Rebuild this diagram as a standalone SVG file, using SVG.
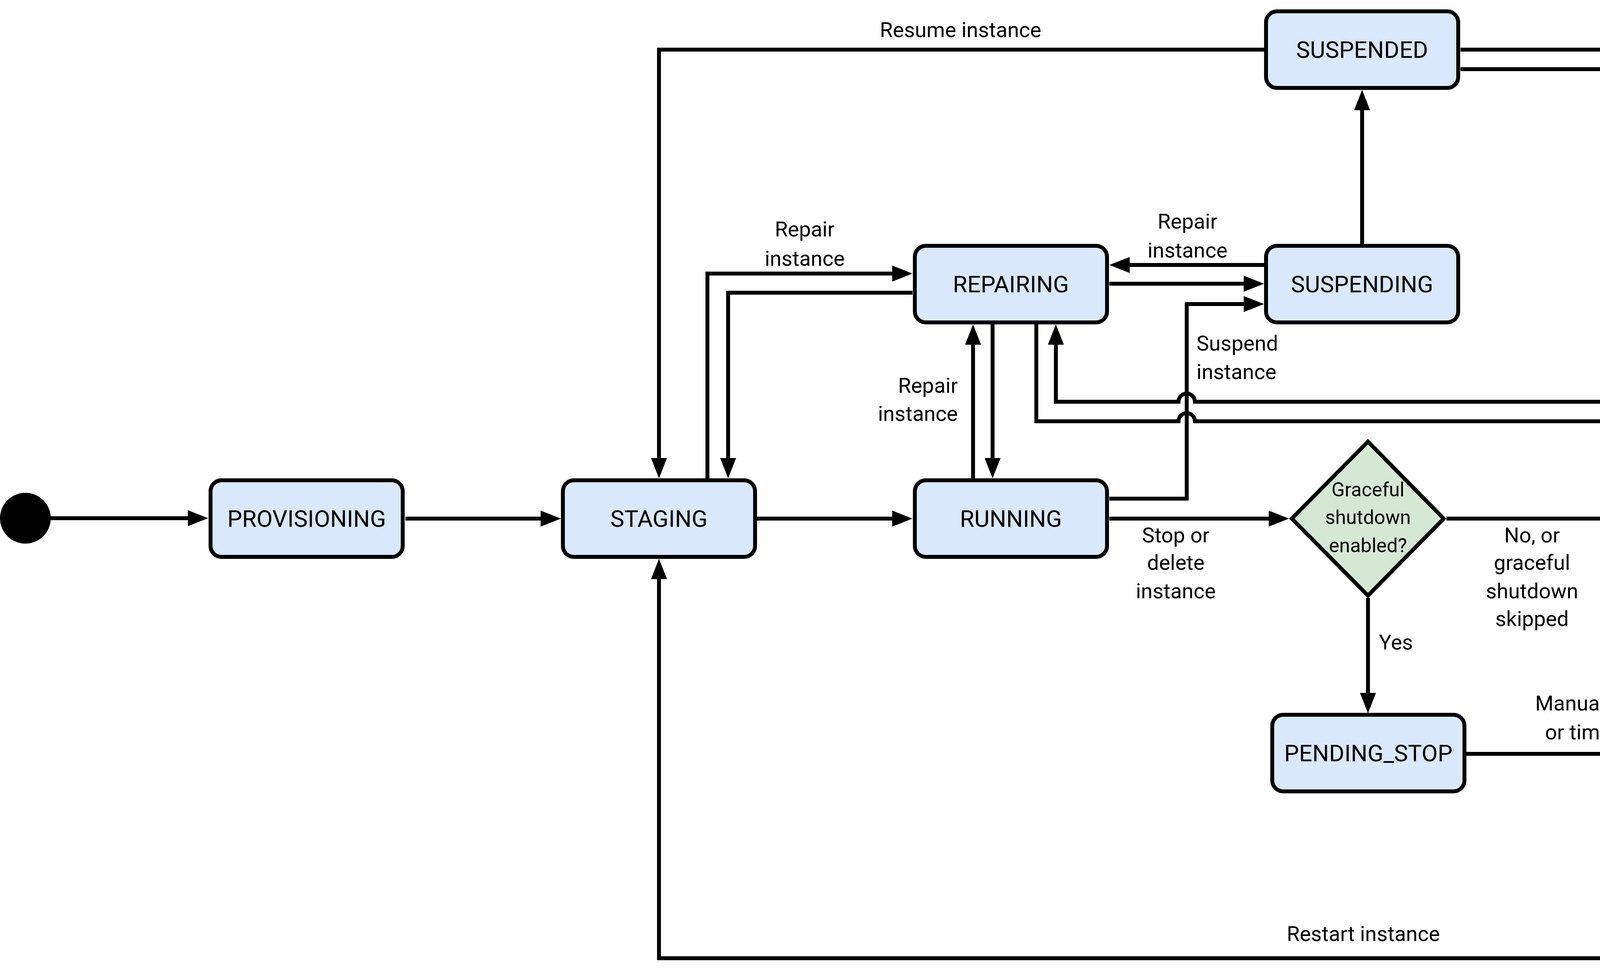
<svg xmlns="http://www.w3.org/2000/svg" width="6045" height="2500" viewBox="0 0 6045 2500">
<style>
  .node rect { fill:#dae8fc; stroke:#000; stroke-width:10; }
  .dec polygon { fill:#d5e8d4; stroke:#000; stroke-width:10; stroke-linejoin:miter; }
  .nt { font-family:Roboto, "Liberation Sans", sans-serif; font-size:60px; fill:#000; text-anchor:middle; }
  .dt { font-family:Roboto, "Liberation Sans", sans-serif; font-size:50px; fill:#000; text-anchor:middle; }
  .lb { font-family:Roboto, "Liberation Sans", sans-serif; font-size:54px; fill:#000; }
  .c { text-anchor:middle; }
  .s { text-anchor:start; }
  .e { text-anchor:end; }
  .edge { fill:none; stroke:#000; stroke-width:10; marker-end:url(#arr); }
</style>
<defs>
  <marker id="arr" markerUnits="userSpaceOnUse" markerWidth="52" markerHeight="41" refX="22" refY="20.5" orient="auto">
    <path d="M0,0 L52,20.5 L0,41 Z" fill="#000"/>
  </marker>
</defs>
<rect width="6045" height="2500" fill="#fff"/>

<g id="connectors">
  <path class="edge" d="M130,1326 H503"/>
  <path class="edge" d="M1038,1327 H1406"/>
  <path class="edge" d="M1936,1327 H2306"/>
  <path class="edge" d="M1811,1224 V700 H2306"/>
  <path class="edge" d="M2336,749 H1864 V1194"/>
  <path class="edge" d="M3236,127 H1687 V1194"/>
  <path class="edge" d="M2491,1224 V860"/>
  <path class="edge" d="M2541,830 V1194"/>
  <path class="edge" d="M2653,830 V1078 H3017 A21,21 0 0 1 3059,1078 H4382 V1195"/>
  <path class="edge" d="M4430,1225 V1028 H3059 A21,21 0 0 0 3017,1028 H2703 V860"/>
  <path class="edge" d="M3236,678 H2870"/>
  <path class="edge" d="M2840,726 H3206"/>
  <path class="edge" d="M2840,1276 H3038 V778 H3206"/>
  <path class="edge" d="M3487,624 V260"/>
  <path class="edge" d="M2840,1327 H3270"/>
  <path class="edge" d="M3703,1327 H4125"/>
  <path class="edge" d="M3502,1530 V1795"/>
  <path class="edge" d="M3754,1929 H4405 V1461"/>
  <path class="edge" d="M4652,1327 H5071"/>
  <path class="edge" d="M3739,177 H4853 V1307 A21,21 0 0 1 4853,1349 V1936 H5022"/>
  <path class="edge" d="M3739,127 H5954 V1203"/>
  <path class="edge" d="M5502,1327 H5827"/>
  <path class="edge" d="M5302,1530 V1806"/>
  <path class="edge" d="M5553,1936 H5954 V1463"/>
  <path class="edge" d="M5302,2042 V2452 H1687 V1460"/>
</g>

<g id="labels">
  <text class="lb c" x="2459" y="95">Resume instance</text>
  <text class="lb c" x="4835" y="94">Delete instance</text>
  <text class="lb c" x="2060" y="605">Repair</text>
  <text class="lb c" x="2060" y="680">instance</text>
  <text class="lb e" x="2452" y="1005">Repair</text>
  <text class="lb e" x="2452" y="1077">instance</text>
  <text class="lb c" x="3040" y="585">Repair</text>
  <text class="lb c" x="3040" y="659">instance</text>
  <text class="lb s" x="3063" y="897">Suspend</text>
  <text class="lb s" x="3063" y="970">instance</text>
  <text class="lb c" x="3010" y="1388">Stop or</text>
  <text class="lb c" x="3010" y="1458">delete</text>
  <text class="lb c" x="3010" y="1531">instance</text>
  <text class="lb c" x="3922" y="1388">No, or</text>
  <text class="lb c" x="3922" y="1458">graceful</text>
  <text class="lb c" x="3922" y="1531">shutdown</text>
  <text class="lb c" x="3922" y="1602">skipped</text>
  <text class="lb s" x="3530" y="1662">Yes</text>
  <text class="lb c" x="4079" y="1818">Manual stop</text>
  <text class="lb c" x="4079" y="1892">or timeout</text>
  <text class="lb s" x="4465" y="1098">Repair</text>
  <text class="lb s" x="4465" y="1171">instance</text>
  <text class="lb s" x="4900" y="693">Set to</text>
  <text class="lb s" x="4900" y="760">TERMINATED if</text>
  <text class="lb s" x="4900" y="827">suspended for</text>
  <text class="lb s" x="4900" y="893">&gt; 60 days</text>
  <text class="lb c" x="5650" y="1299">Deleting</text>
  <text class="lb s" x="5339" y="1662">Stopping</text>
  <text class="lb c" x="5751" y="1828">Delete</text>
  <text class="lb c" x="5751" y="1901">instance</text>
  <text class="lb c" x="3490" y="2408">Restart instance</text>
</g>

<g id="start">
  <circle cx="65" cy="1326" r="65" fill="#000"/>
</g>
<g id="end">
  <circle cx="5954" cy="1337" r="86" fill="#fff" stroke="#000" stroke-width="10"/>
  <circle cx="5954" cy="1337" r="63" fill="#000"/>
</g>

<g id="provisioning" class="node">
  <rect x="539" y="1229" width="492" height="196" rx="28"/>
  <text class="nt" x="785" y="1348">PROVISIONING</text>
</g>
<g id="staging" class="node">
  <rect x="1441" y="1229" width="492" height="196" rx="28"/>
  <text class="nt" x="1687" y="1348">STAGING</text>
</g>
<g id="repairing" class="node">
  <rect x="2342" y="629" width="492" height="196" rx="28"/>
  <text class="nt" x="2588" y="748">REPAIRING</text>
</g>
<g id="running" class="node">
  <rect x="2342" y="1229" width="492" height="196" rx="28"/>
  <text class="nt" x="2588" y="1348">RUNNING</text>
</g>
<g id="suspended" class="node">
  <rect x="3241" y="29" width="492" height="196" rx="28"/>
  <text class="nt" x="3487" y="148">SUSPENDED</text>
</g>
<g id="suspending" class="node">
  <rect x="3241" y="629" width="492" height="196" rx="28"/>
  <text class="nt" x="3487" y="748">SUSPENDING</text>
</g>
<g id="stopping" class="node">
  <rect x="4157" y="1230" width="492" height="196" rx="28"/>
  <text class="nt" x="4403" y="1349">STOPPING</text>
</g>
<g id="pending_stop" class="node">
  <rect x="3257" y="1829" width="492" height="196" rx="28"/>
  <text class="nt" x="3503" y="1948">PENDING_STOP</text>
</g>
<g id="terminated" class="node">
  <rect x="5056" y="1841" width="492" height="196" rx="28"/>
  <text class="nt" x="5302" y="1960">TERMINATED</text>
</g>

<g id="graceful" class="dec">
  <polygon points="3502,1130 3696,1327 3502,1524 3307,1327"/>
  <text class="dt" x="3502" y="1270">Graceful</text>
  <text class="dt" x="3502" y="1341">shutdown</text>
  <text class="dt" x="3502" y="1413">enabled?</text>
</g>
<g id="stop_or_delete" class="dec">
  <polygon points="5302,1130 5495,1327 5302,1524 5108,1327"/>
  <text class="dt" x="5303" y="1270">Stopping</text>
  <text class="dt" x="5303" y="1341">or deleting</text>
  <text class="dt" x="5303" y="1412">instance?</text>
</g>
</svg>
